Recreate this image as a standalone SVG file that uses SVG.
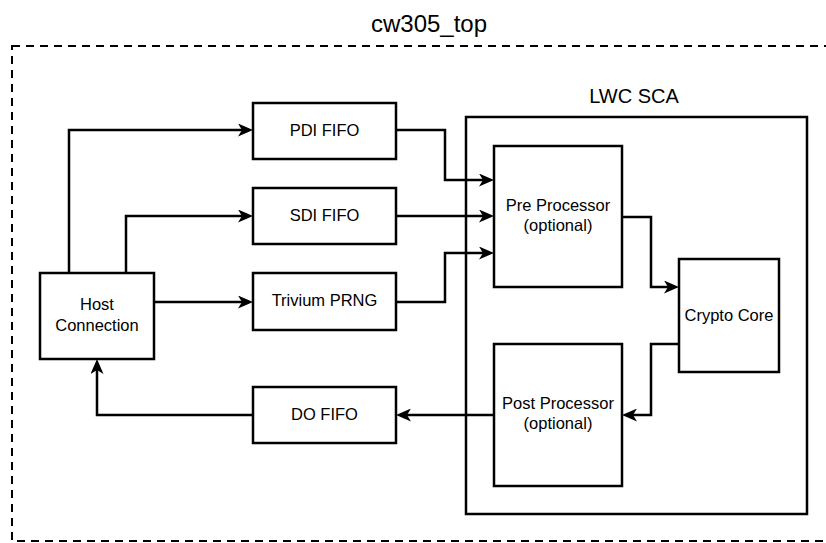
<svg xmlns="http://www.w3.org/2000/svg" width="826" height="543" viewBox="0 0 826 543">
<style>
.box{fill:#fff;stroke:#000;stroke-width:2.5}
.frame{fill:none;stroke:#000;stroke-width:2.5}
.dash{fill:none;stroke:#000;stroke-width:2;stroke-dasharray:8 6}
.t{font-family:"Liberation Sans",Arial,sans-serif;font-size:16.5px;fill:#000;text-anchor:middle}
.title{font-family:"Liberation Sans",Arial,sans-serif;font-size:24px;fill:#000;text-anchor:middle}
.sub{font-family:"Liberation Sans",Arial,sans-serif;font-size:20px;fill:#000;text-anchor:middle}
.c{fill:none;stroke:#000;stroke-width:2.5;marker-end:url(#arr)}
</style>
<defs>
<marker id="arr" viewBox="0 0 15 13" refX="4" refY="6.5" markerWidth="15" markerHeight="13" markerUnits="userSpaceOnUse" orient="auto">
<path d="M0,0 L15,6.5 L0,13 L4,6.5 Z" fill="#000"/>
</marker>
</defs>
<rect width="826" height="543" fill="#fff"/>
<g id="cw305_top">
<rect class="dash" x="12" y="46" width="830" height="495"/>
<text class="title" x="429" y="32">cw305_top</text>
</g>
<g id="lwc_sca">
<rect class="frame" x="466" y="117" width="341" height="397"/>
<text class="sub" x="634" y="103">LWC SCA</text>
</g>
<g id="host">
<rect class="box" x="40" y="273" width="114" height="86"/>
<text class="t" x="97" y="310">Host</text>
<text class="t" x="97" y="331">Connection</text>
</g>
<g id="pdi_fifo">
<rect class="box" x="253" y="103" width="143" height="56"/>
<text class="t" x="324.5" y="136">PDI FIFO</text>
</g>
<g id="sdi_fifo">
<rect class="box" x="253" y="188" width="143" height="56"/>
<text class="t" x="324.5" y="221">SDI FIFO</text>
</g>
<g id="trivium">
<rect class="box" x="253" y="273" width="143" height="57"/>
<text class="t" x="324.5" y="306">Trivium PRNG</text>
</g>
<g id="do_fifo">
<rect class="box" x="253" y="387" width="143" height="56"/>
<text class="t" x="324.5" y="420">DO FIFO</text>
</g>
<g id="pre">
<rect class="box" x="494" y="146" width="128" height="141"/>
<text class="t" x="558" y="211">Pre Processor</text>
<text class="t" x="558" y="231">(optional)</text>
</g>
<g id="post">
<rect class="box" x="494" y="344" width="128" height="142"/>
<text class="t" x="558" y="409">Post Processor</text>
<text class="t" x="558" y="429">(optional)</text>
</g>
<g id="crypto">
<rect class="box" x="679" y="259" width="100" height="113"/>
<text class="t" x="729" y="321">Crypto Core</text>
</g>
<g id="connectors">
<path class="c" d="M69,273 V130 H242"/>
<path class="c" d="M126,273 V216 H242"/>
<path class="c" d="M154,302 H242"/>
<path class="c" d="M253,415 H97 V370"/>
<path class="c" d="M396,130 H445 V180 H483"/>
<path class="c" d="M396,216 H483"/>
<path class="c" d="M396,302 H445 V253 H483"/>
<path class="c" d="M622,217 H651 V287 H668"/>
<path class="c" d="M679,344 H651 V415 H633"/>
<path class="c" d="M494,415 H407"/>
</g>
</svg>
